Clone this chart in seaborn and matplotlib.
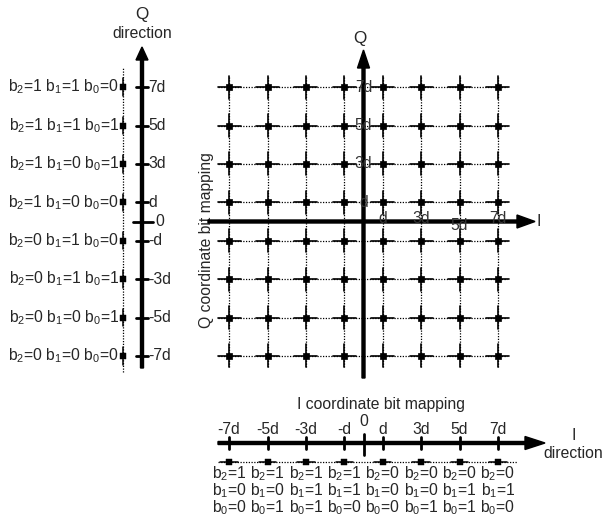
import numpy as np
import pandas as pd
import matplotlib
matplotlib.use("Agg")
import matplotlib.pyplot as plt
import seaborn as sns

# ---------------- data ----------------
levels = [-7, -5, -3, -1, 1, 3, 5, 7]
level_labels = ["-7d", "-5d", "-3d", "-d", "d", "3d", "5d", "7d"]
# Q coordinate bit mapping (levels -7d .. 7d)
q_b2 = [0, 0, 0, 0, 1, 1, 1, 1]
q_b1 = [0, 0, 1, 1, 0, 0, 1, 1]
q_b0 = [0, 1, 1, 0, 0, 1, 1, 0]
# I coordinate bit mapping (levels -7d .. 7d)
i_b2 = [1, 1, 1, 1, 0, 0, 0, 0]
i_b1 = [0, 0, 1, 1, 0, 0, 1, 1]
i_b0 = [0, 1, 1, 0, 0, 1, 1, 0]
main_tick_labels = ["d", "3d", "5d", "7d"]

# ---------------- style ----------------
sns.set_theme(style="white")
plt.rcParams["font.family"] = ["Liberation Sans", "DejaVu Sans"]
plt.rcParams["mathtext.fontset"] = "custom"
plt.rcParams["mathtext.rm"] = "Liberation Sans"
plt.rcParams["mathtext.it"] = "Liberation Sans:italic"
plt.rcParams["mathtext.default"] = "regular"

W, H, DPI = 605, 523, 100
PX = 19.2            # pixels per unit d
CX, CY = 363.5, 221.5  # centre of constellation in pixels


def px(x):
    return (x - CX) / PX


def py(y):
    return (CY - y) / PX


fig = plt.figure(figsize=(W / DPI, H / DPI), dpi=DPI)
ax = fig.add_axes([0, 0, 1, 1])
ax.set_xlim(px(0), px(W))
ax.set_ylim(py(H), py(0))
ax.axis("off")

FS = 11.3
dot = (0, (1, 1.2))
k = "black"

# ---------------- main constellation ----------------
gx0, gx1 = px(218), px(507)
gy0, gy1 = py(367), py(77)
for v in levels:
    ax.plot([gx0, gx1], [v, v], color=k, lw=0.9, ls=dot, zorder=1)
    ax.plot([v, v], [gy0, gy1], color=k, lw=0.9, ls=dot, zorder=1)

grid = pd.DataFrame([(i, q) for i in levels for q in levels], columns=["I", "Q"])
arm = 0.6
for _, r in grid.iterrows():
    ax.plot([r.I - arm, r.I + arm], [r.Q, r.Q], color=k, lw=1.2, zorder=2)
    ax.plot([r.I, r.I], [r.Q - arm, r.Q + arm], color=k, lw=1.2, zorder=2)
sns.scatterplot(data=grid, x="I", y="Q", marker="s", s=20, color=k,
                edgecolor=k, linewidth=0.5, ax=ax, zorder=3, legend=False)

lw_ax = 3 / PX
# I axis
ax.arrow(px(208), 0, px(535) - px(208), 0, width=lw_ax, head_width=13 / PX,
         head_length=18 / PX, length_includes_head=True, color=k, zorder=4)
# Q axis
ax.arrow(0, py(378), 0, py(50) - py(378), width=lw_ax, head_width=12 / PX,
         head_length=18 / PX, length_includes_head=True, color=k, zorder=4)
ax.text(px(537), 0, "I", fontsize=FS, ha="left", va="center")
ax.text(px(360), py(38), "Q", fontsize=FS + 1, ha="center", va="center")

for v, lab in zip(levels[4:], main_tick_labels):
    ax.text(0, v, lab, fontsize=FS, ha="center", va="center", color="#333333", zorder=5)
    yo = -0.2 if lab == "5d" else 0.15
    ax.text(v, yo, lab, fontsize=FS, ha="center", va="center", color="#333333", zorder=5)

ax.text(px(206), py(240), "Q coordinate bit mapping", fontsize=FS,
        rotation=90, ha="center", va="center")

# ---------------- left Q direction axis ----------------
qx = px(142)
ax.arrow(qx, py(368), 0, py(47) - py(368), width=lw_ax, head_width=12 / PX,
         head_length=13 / PX, length_includes_head=True, color=k, zorder=4)
ax.text(qx, py(14), "Q", fontsize=FS + 1, ha="center", va="center")
ax.text(qx, py(33), "direction", fontsize=FS, ha="center", va="center")
for v, lab in zip(levels, level_labels):
    ax.plot([px(136), px(148)], [v, v], color=k, lw=2, zorder=4)
    ax.text(px(148), v, lab, fontsize=FS, ha="left", va="center")
ax.plot([px(133), px(153)], [0, 0], color=k, lw=2, zorder=4)
ax.text(px(155), 0, "0", fontsize=FS, ha="left", va="center")

dx = px(123)
ax.plot([dx, dx], [py(372), py(68)], color=k, lw=0.9, ls=dot, zorder=1)
qdf = pd.DataFrame({"Q": levels, "x": [dx] * len(levels)})
for v in levels:
    ax.plot([dx, dx], [v - 0.45, v + 0.45], color=k, lw=1.1, zorder=2)
sns.scatterplot(data=qdf, x="x", y="Q", marker="s", s=16, color=k,
                edgecolor=k, ax=ax, zorder=3, legend=False)
for v, b2, b1, b0 in zip(levels, q_b2, q_b1, q_b0):
    ax.text(px(119), v, f"b$_2$={b2} b$_1$={b1} b$_0$={b0}", fontsize=FS,
            ha="right", va="center")

# ---------------- bottom I direction axis ----------------
iy = py(443)
ax.text(px(381), py(404), "I coordinate bit mapping", fontsize=FS,
        ha="center", va="center")
ax.arrow(px(218), iy, px(545) - px(218), 0, width=lw_ax, head_width=13 / PX,
         head_length=20 / PX, length_includes_head=True, color=k, zorder=4)
ax.text(px(574), py(435), "I", fontsize=FS, ha="center", va="center")
ax.text(px(573), py(454), "direction", fontsize=FS, ha="center", va="center")
for v, lab in zip(levels, level_labels):
    ax.plot([v, v], [py(437), py(449)], color=k, lw=2, zorder=4)
    ax.text(v, py(429), lab, fontsize=FS, ha="center", va="center")
ax.plot([0, 0], [py(434), py(455)], color=k, lw=2, zorder=4)
ax.text(0, py(422), "0", fontsize=FS, ha="center", va="center")

by = py(462)
ax.plot([px(218), px(517)], [by, by], color=k, lw=0.9, ls=dot, zorder=1)
idf = pd.DataFrame({"I": levels, "y": [by] * len(levels)})
for v in levels:
    ax.plot([v - 0.45, v + 0.45], [by, by], color=k, lw=1.1, zorder=2)
sns.scatterplot(data=idf, x="I", y="y", marker="s", s=16, color=k,
                edgecolor=k, ax=ax, zorder=3, legend=False)
for v, b2, b1, b0 in zip(levels, i_b2, i_b1, i_b0):
    ax.text(v, py(474), f"b$_2$={b2}", fontsize=FS, ha="center", va="center")
    ax.text(v, py(491), f"b$_1$={b1}", fontsize=FS, ha="center", va="center")
    ax.text(v, py(508), f"b$_0$={b0}", fontsize=FS, ha="center", va="center")

fig.savefig("out.png", dpi=DPI)
